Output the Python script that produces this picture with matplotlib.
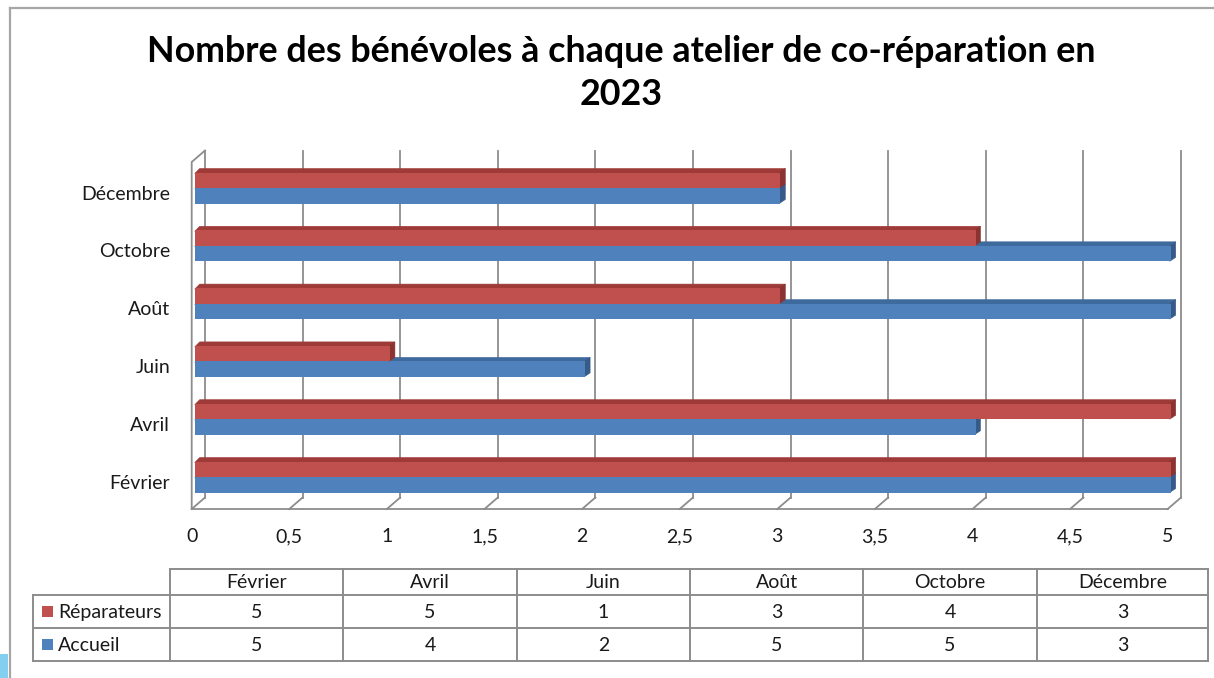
import matplotlib
matplotlib.use("Agg")
import matplotlib.pyplot as plt
from matplotlib.patches import Polygon, Rectangle
from matplotlib.lines import Line2D

# ---------------- data ----------------
categories = ["Février", "Avril", "Juin", "Août", "Octobre", "Décembre"]
reparateurs = [5, 5, 1, 3, 4, 3]
accueil = [5, 4, 2, 5, 5, 3]
series_names = ["Réparateurs", "Accueil"]
x_ticks = [0, 0.5, 1, 1.5, 2, 2.5, 3, 3.5, 4, 4.5, 5]
x_tick_labels = ["0", "0,5", "1", "1,5", "2", "2,5", "3", "3,5", "4", "4,5", "5"]
title = "Nombre des bénévoles à chaque atelier de co-réparation en\n2023"

# ---------------- style ----------------
W, H = 1214, 678
DPI = 100
FONT = "Lato"
plt.rcParams["font.family"] = [FONT, "DejaVu Sans"]

RED = "#C0504D"; RED_TOP = "#9E3A37"; RED_SIDE = "#8A3330"
BLUE = "#4F81BD"; BLUE_TOP = "#3F6A9E"; BLUE_SIDE = "#365B88"
GRID = "#8C8C8C"
TXT = "#1a1a1a"

fig = plt.figure(figsize=(W / DPI, H / DPI), dpi=DPI)
fig.patch.set_facecolor("white")

def fx(px):
    return px / W

def fy(py):
    return 1 - py / H

# front plane of plot area (pixels)
X0, X5 = 191.7, 1167.7
YTOP, YBOT = 162.0, 509.0
CENTER0 = 477.0      # pixel y of first category centre
STEP = 57.8          # pixels per category
ax = fig.add_axes([fx(X0), fy(YBOT), fx(X5) - fx(X0), (YBOT - YTOP) / H])
ax.set_xlim(0, 5)
ax.set_ylim(-(YBOT - CENTER0) / STEP, (CENTER0 - YTOP) / STEP)
for s in ax.spines.values():
    s.set_visible(False)
ax.set_facecolor("none")

pxx = 5 / (X5 - X0)   # data x per pixel
pxy = 1 / STEP        # data y per pixel
ylo, yhi = ax.get_ylim()

# walls (depth offset)
DX, DY = 13.3 * pxx, 11.5 * pxy
lw_grid = 1.3
for xv in x_ticks:
    ax.add_line(Line2D([xv + DX, xv + DX], [ylo + DY, yhi + DY], color=GRID,
                       lw=lw_grid, clip_on=False, zorder=1))
    ax.add_line(Line2D([xv, xv + DX], [ylo, ylo + DY], color=GRID,
                       lw=lw_grid, clip_on=False, zorder=1))
ax.add_line(Line2D([0, 5], [ylo, ylo], color=GRID, lw=lw_grid, clip_on=False, zorder=1))
ax.add_line(Line2D([0, 0, DX], [ylo, yhi, yhi + DY], color=GRID, lw=lw_grid,
                   clip_on=False, zorder=1))

# bars
SH = 3.0 * pxx           # front face shift
BH = 15.5 * pxy          # bar height
ddx, ddy = 5.0 * pxx, 4.0 * pxy
ov_x, ov_y = 1.0 * pxx, 1.0 * pxy   # hidden overlap under the front face
idx = list(range(len(categories)))


def bar3d(y0, v, front, top, side, z):
    bars = ax.barh(y0, v, height=BH, left=SH, align="edge", color=front,
                   edgecolor="none", zorder=z + 0.2)
    for b in bars:
        b.set_clip_on(False)
    x1 = SH + v
    ax.add_patch(Polygon([(SH, y0 + BH - ov_y), (x1, y0 + BH - ov_y),
                          (x1 + ddx, y0 + BH + ddy), (SH + ddx, y0 + BH + ddy)],
                         closed=True, facecolor=top, edgecolor=top, lw=0.4,
                         zorder=z, clip_on=False))
    ax.add_patch(Polygon([(x1 - ov_x, y0), (x1 - ov_x, y0 + BH), (x1 + ddx, y0 + BH + ddy),
                          (x1 + ddx, y0 + ddy)], closed=True, facecolor=side,
                         edgecolor=side, lw=0.4, zorder=z + 0.1, clip_on=False))

for i in idx:
    bar3d(i - BH, accueil[i], BLUE, BLUE_TOP, BLUE_SIDE, 3)
for i in idx:
    bar3d(i, reparateurs[i], RED, RED_TOP, RED_SIDE, 5)

# ticks
FS = 14
ax.set_xticks(x_ticks)
ax.set_xticklabels(x_tick_labels, fontsize=FS, color=TXT)
ax.set_yticks([i - 0.08 for i in idx])
ax.set_yticklabels(categories, fontsize=FS, color=TXT)
ax.tick_params(axis="x", length=0, pad=14)
ax.tick_params(axis="y", length=0, pad=15.5)

# title
fig.text(fx(621), fy(73), title, ha="center", va="center", fontsize=25.8,
         fontweight="bold", color="black", linespacing=1.4)

# ---------------- data table ----------------
tax = fig.add_axes([0, 0, 1, 1])
tax.set_xlim(0, W)
tax.set_ylim(H, 0)
tax.axis("off")

col_x = [170, 343.3, 516.6, 690, 863.3, 1036.7, 1208.3]
row_y = [568.5, 595, 627.7, 660.5]
left_x = 33.3
TC = "#8C8C8C"
TLW = 1.4
tax.add_line(Line2D([col_x[0], col_x[-1]], [row_y[0], row_y[0]], color=TC, lw=TLW))
for yv in row_y[1:]:
    tax.add_line(Line2D([left_x, col_x[-1]], [yv, yv], color=TC, lw=TLW))
for xv in col_x:
    tax.add_line(Line2D([xv, xv], [row_y[0], row_y[-1]], color=TC, lw=TLW))
tax.add_line(Line2D([left_x, left_x], [row_y[1], row_y[-1]], color=TC, lw=TLW))

for j, cat in enumerate(categories):
    cx = (col_x[j] + col_x[j + 1]) / 2
    tax.text(cx, (row_y[0] + row_y[1]) / 2 + 1, cat, ha="center", va="center",
             fontsize=FS, color=TXT)
    tax.text(cx, (row_y[1] + row_y[2]) / 2 + 1, str(reparateurs[j]), ha="center",
             va="center", fontsize=FS, color=TXT)
    tax.text(cx, (row_y[2] + row_y[3]) / 2 + 1, str(accueil[j]), ha="center",
             va="center", fontsize=FS, color=TXT)

for r, (name, colr) in enumerate(zip(series_names, [RED, BLUE])):
    yc = (row_y[r + 1] + row_y[r + 2]) / 2
    tax.add_patch(Rectangle((41.7, yc - 5.5), 11, 11, facecolor=colr, edgecolor="none"))
    tax.text(58, yc + 1, name, ha="left", va="center", fontsize=FS, color=TXT)

# frame
tax.add_line(Line2D([10, W], [8.3, 8.3], color="#A6A6A6", lw=1.6))
tax.add_line(Line2D([10, 10], [8.3, H], color="#A6A6A6", lw=1.6))
tax.add_patch(Rectangle((0, 654), 8, 24, facecolor="#82CFF0", edgecolor="none"))

fig.savefig("out.png", dpi=DPI)
